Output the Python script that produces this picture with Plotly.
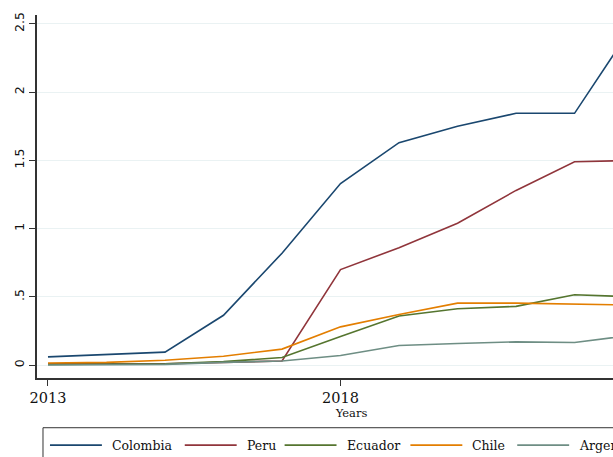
import plotly.graph_objects as go

# Annual values by country, 2013-2023
years = [2013, 2014, 2015, 2016, 2017, 2018, 2019, 2020, 2021, 2022, 2023]
colombia = [0.06, 0.075, 0.095, 0.365, 0.82, 1.33, 1.63, 1.75, 1.845, 1.845, 2.49]
peru = [0.01, 0.01, 0.01, 0.02, 0.03, 0.70, 0.86, 1.04, 1.28, 1.49, 1.50]
ecuador = [0.005, 0.005, 0.01, 0.025, 0.055, 0.21, 0.36, 0.413, 0.43, 0.515, 0.50]
chile = [0.015, 0.02, 0.035, 0.065, 0.117, 0.28, 0.37, 0.454, 0.454, 0.445, 0.44]
argentina = [0.0, 0.0, 0.005, 0.02, 0.03, 0.07, 0.143, 0.158, 0.17, 0.165, 0.22]

countries = ["Colombia", "Peru", "Ecuador", "Chile", "Argentina"]
values = [colombia, peru, ecuador, chile, argentina]
colors = ["#1a476f", "#90353b", "#55752f", "#e37e00", "#6e8e84"]

x_ticks = [2013, 2018]
y_ticks = [0, 0.5, 1, 1.5, 2, 2.5]
y_tick_text = ["0", ".5", "1", "1.5", "2", "2.5"]

SERIF = "DejaVu Serif, Georgia, serif"
SANS = "DejaVu Sans, Verdana, sans-serif"
INK = "#111111"
AXIS = "#333333"

# Canvas and plot-area geometry (pixels)
W, H = 690, 470
ML, MT, MB = 36, 13, 92
plot_w = 630
plot_h = H - MT - MB
MR = W - ML - plot_w
px_per_year = 58.6
x0 = 2013 - 11 / px_per_year
x1 = x0 + plot_w / px_per_year


def px_x(p):
    return (p - ML) / plot_w


def px_y(p):
    return (MT + plot_h - p) / plot_h


fig = go.Figure()
for name, vals, color in zip(countries, values, colors):
    fig.add_trace(go.Scatter(
        x=years, y=vals, name=name, mode="lines",
        line=dict(color=color, width=1.6),
        showlegend=False,
    ))

# Boxed legend row below the axis
legend_top, legend_bottom, legend_left = 428, 463, 42
key_starts = [49, 184, 284, 410, 517]
key_len, text_offset, key_y = 52, 60, 445.5

shapes = [dict(
    type="rect", xref="paper", yref="paper",
    x0=px_x(legend_left), x1=px_x(W + 20),
    y0=px_y(legend_bottom), y1=px_y(legend_top),
    line=dict(color=AXIS, width=1), fillcolor="rgba(0,0,0,0)",
)]
annotations = []
for name, color, kx in zip(countries, colors, key_starts):
    shapes.append(dict(
        type="line", xref="paper", yref="paper",
        x0=px_x(kx), x1=px_x(kx + key_len), y0=px_y(key_y), y1=px_y(key_y),
        line=dict(color=color, width=1.6),
    ))
    annotations.append(dict(
        xref="paper", yref="paper", x=px_x(kx + text_offset), y=px_y(key_y),
        xanchor="left", yanchor="middle", showarrow=False, text=name,
        font=dict(family=SERIF, size=12.5, color=INK),
    ))

fig.update_layout(
    width=W, height=H,
    margin=dict(l=ML, r=MR, t=MT, b=MB, pad=0),
    paper_bgcolor="white", plot_bgcolor="white",
    shapes=shapes, annotations=annotations,
    xaxis=dict(
        range=[x0, x1],
        tickvals=x_ticks,
        ticktext=[str(v) for v in x_ticks],
        ticks="outside", ticklen=6, tickwidth=1, tickcolor=AXIS,
        showline=True, linecolor=AXIS, linewidth=1.5,
        showgrid=False, zeroline=False,
        tickfont=dict(family=SERIF, size=14.5, color=INK),
        title=dict(text="Years", font=dict(family=SERIF, size=11.5, color=INK), standoff=1),
    ),
    yaxis=dict(
        range=[-(378 - 365) / 137.2, (365 - 13) / 137.2],
        tickvals=y_ticks,
        ticktext=y_tick_text,
        tickangle=-90,
        ticks="outside", ticklen=6, tickwidth=1, tickcolor=AXIS,
        showline=True, linecolor=AXIS, linewidth=1.5,
        showgrid=True, gridcolor="#eaf2f3", gridwidth=1,
        zeroline=False,
        tickfont=dict(family=SANS, size=12.5, color=INK),
    ),
)

fig.write_html("out.html", post_script="document.body.style.overflow='hidden';")
